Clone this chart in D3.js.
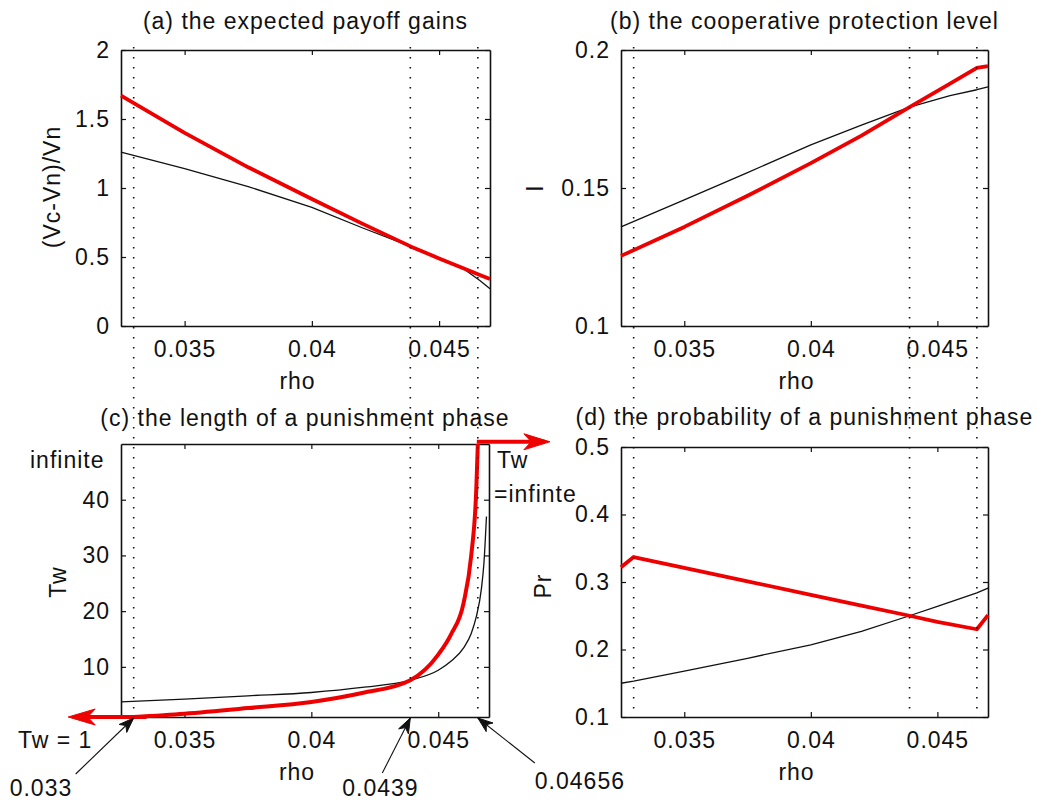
<!DOCTYPE html>
<html>
<head>
<meta charset="utf-8">
<script src="https://cdn.jsdelivr.net/npm/d3@7/dist/d3.min.js"></script>
<style>
  html, body { margin: 0; padding: 0; background: #fff; }
  svg { display: block; }
  text { font-family: "Liberation Sans", Arial, Helvetica, sans-serif; font-size: 23px; letter-spacing: 1px; fill: #111; }
</style>
</head>
<body>
<svg id="chart" width="1037" height="803"></svg>
<script>
// ---------- data ----------
const rhoDomain = [0.0325, 0.047];
const rhoTicks = [0.035, 0.04, 0.045];
const criticalRho = [0.033, 0.0439, 0.04656];
const criticalLabels = ["0.033", "0.0439", "0.04656"];

// (a) expected payoff gains
const rhoA = [0.0325, 0.035, 0.0375, 0.04, 0.042, 0.0439, 0.045, 0.046, 0.0466, 0.047];
const gainRed = [1.67, 1.40, 1.15, 0.92, 0.74, 0.575, 0.49, 0.415, 0.37, 0.34];
const gainBlack = [1.26, 1.14, 1.01, 0.86, 0.71, 0.575, 0.49, 0.41, 0.33, 0.27];
const gainTicks = [0, 0.5, 1, 1.5, 2];

// (b) cooperative protection level
const rhoB = [0.0325, 0.035, 0.0375, 0.04, 0.042, 0.0439, 0.0455, 0.04656, 0.047];
const levelRed = [0.1254, 0.1359, 0.1472, 0.1590, 0.1690, 0.1793, 0.1878, 0.1935, 0.1942];
const levelBlack = [0.1359, 0.1457, 0.1556, 0.1656, 0.1728, 0.1793, 0.1835, 0.1856, 0.1866];
const levelTicks = [0.1, 0.15, 0.2];

// (c) length of a punishment phase
const rhoCRed = [0.033, 0.035, 0.0375, 0.04, 0.042, 0.0439, 0.045, 0.0455, 0.046, 0.0463, 0.0465, 0.04656];
const lengthRed = [1, 1.6, 2.6, 3.7, 5.3, 7.6, 12.2, 15.8, 21.5, 30, 42, 50];
const rhoCBlack = [0.0325, 0.035, 0.0375, 0.04, 0.042, 0.0439, 0.045, 0.0455, 0.046, 0.0463, 0.0465, 0.0467, 0.0468, 0.0469];
const lengthBlack = [3.7, 4.2, 4.8, 5.4, 6.3, 7.6, 9.4, 11, 13.4, 16, 19, 24, 28.6, 37];
const lengthTicks = [10, 20, 30, 40];

// (d) probability of a punishment phase
const rhoD = [0.0325, 0.033, 0.035, 0.0375, 0.04, 0.042, 0.0439, 0.045, 0.04656, 0.047];
const probRed = [0.322, 0.337, 0.321, 0.301, 0.281, 0.265, 0.250, 0.241, 0.230, 0.251];
const probBlack = [0.150, 0.153, 0.168, 0.187, 0.207, 0.227, 0.250, 0.264, 0.284, 0.291];
const probTicks = [0.1, 0.2, 0.3, 0.4, 0.5];

// ---------- drawing ----------
const svg = d3.select("#chart");
svg.append("rect").attr("width", 1037).attr("height", 803).attr("fill", "#fff");

const RED = "#ee0000";
const fmt = d => String(d);

function makePanel(cfg) {
  const x = d3.scaleLinear().domain(rhoDomain).range([cfg.x0, cfg.x1]);
  const y = d3.scaleLinear().domain(cfg.yDomain).range([cfg.y1, cfg.y0]);
  const g = svg.append("g");

  const styleAxis = sel => {
    sel.select(".domain").attr("stroke", "#111").attr("stroke-width", 1.6);
    sel.selectAll(".tick line").attr("stroke", "#111").attr("stroke-width", 1.2);
    sel.selectAll("text").attr("font-size", null).attr("font-family", null).attr("fill", "#111");
  };
  g.append("g").attr("transform", `translate(0,${cfg.y1})`)
    .call(d3.axisBottom(x).tickValues(rhoTicks).tickFormat(fmt).tickSizeInner(-5).tickSizeOuter(0).tickPadding(15))
    .call(styleAxis);
  g.append("g").attr("transform", `translate(0,${cfg.y0})`)
    .call(d3.axisTop(x).tickValues(rhoTicks).tickFormat("").tickSizeInner(-5).tickSizeOuter(0))
    .call(styleAxis);
  g.append("g").attr("transform", `translate(${cfg.x0},0)`)
    .call(d3.axisLeft(y).tickValues(cfg.yTicks).tickFormat(fmt).tickSizeInner(-5).tickSizeOuter(0).tickPadding(11))
    .call(styleAxis);
  g.append("g").attr("transform", `translate(${cfg.x1},0)`)
    .call(d3.axisRight(y).tickValues(cfg.yTicks).tickFormat("").tickSizeInner(-5).tickSizeOuter(0))
    .call(styleAxis);
  g.selectAll("text").attr("font-size", null).attr("font-family", null);

  // series
  cfg.series.forEach(s => {
    const line = d3.line().x((d, i) => x(s.xs[i])).y(d => y(d)).curve(cfg.curve || d3.curveLinear);
    g.append("path").datum(s.ys).attr("d", line)
      .attr("fill", "none").attr("stroke", s.color).attr("stroke-width", s.width)
      .attr("stroke-linejoin", "round");
  });

  // title
  svg.append("text").attr("x", (cfg.x0 + cfg.x1) / 2).attr("y", cfg.titleY)
    .attr("text-anchor", "middle").text(cfg.title);
  // x label
  svg.append("text").attr("x", (cfg.x0 + cfg.x1) / 2 - 8).attr("y", cfg.y1 + 63)
    .attr("text-anchor", "middle").text("rho");
  // y label
  svg.append("text").attr("transform", `translate(${cfg.ylabX},${cfg.ylabY}) rotate(-90)`)
    .attr("text-anchor", "middle").text(cfg.ylabel);
  return { x, y };
}

const pa = makePanel({
  x0: 121, x1: 490, y0: 50, y1: 326, yDomain: [0, 2], yTicks: gainTicks,
  title: "(a) the expected payoff gains", titleY: 29,
  ylabel: "(Vc-Vn)/Vn", ylabX: 60, ylabY: 187,
  series: [
    { xs: rhoA, ys: gainBlack, color: "#111", width: 1.3 },
    { xs: rhoA, ys: gainRed, color: RED, width: 3.8 }
  ]
});
const pb = makePanel({
  x0: 621, x1: 988, y0: 50, y1: 326, yDomain: [0.1, 0.2], yTicks: levelTicks,
  title: "(b) the cooperative protection level", titleY: 29,
  ylabel: "I", ylabX: 543, ylabY: 188,
  series: [
    { xs: rhoB, ys: levelBlack, color: "#111", width: 1.3 },
    { xs: rhoB, ys: levelRed, color: RED, width: 3.8 }
  ]
});
const pc = makePanel({
  x0: 121, x1: 489, y0: 444, y1: 717, yDomain: [1, 50], yTicks: lengthTicks,
  title: "(c) the length of a punishment phase", titleY: 426,
  ylabel: "Tw", ylabX: 66, ylabY: 582, curve: d3.curveMonotoneX,
  series: [
    { xs: rhoCBlack, ys: lengthBlack, color: "#111", width: 1.3 },
    { xs: rhoCRed, ys: lengthRed, color: RED, width: 4 }
  ]
});
const pd = makePanel({
  x0: 621, x1: 988, y0: 447, y1: 717, yDomain: [0.1, 0.5], yTicks: probTicks,
  title: "(d) the probability of a punishment phase", titleY: 425,
  ylabel: "Pr", ylabX: 551, ylabY: 586,
  series: [
    { xs: rhoD, ys: probBlack, color: "#111", width: 1.3 },
    { xs: rhoD, ys: probRed, color: RED, width: 3.8 }
  ]
});

// dotted vertical guides at the critical rho values
[pc, pd].forEach(p => {
  svg.selectAll(null).data(criticalRho).enter().append("line")
    .attr("x1", d => p.x(d)).attr("x2", d => p.x(d))
    .attr("y1", 47).attr("y2", 716)
    .attr("stroke", "#111").attr("stroke-width", 1.6)
    .attr("stroke-dasharray", "1.6,8.4");
});

// arrow helper
function arrowHead(tx, ty, sx, sy, L, w, color) {
  const d = Math.hypot(tx - sx, ty - sy), ux = (tx - sx) / d, uy = (ty - sy) / d;
  const nx = -uy, ny = ux;
  const bx = tx - L * ux, by = ty - L * uy;
  const mx = tx - 0.72 * L * ux, my = ty - 0.72 * L * uy;
  svg.append("path")
    .attr("d", `M${tx},${ty}L${bx + w * nx},${by + w * ny}L${mx},${my}L${bx - w * nx},${by - w * ny}Z`)
    .attr("fill", color).attr("stroke", color).attr("stroke-width", 1);
}

// red arrows in (c): Tw = infinite and Tw = 1
const topY = pc.y(50.4);
svg.append("line").attr("x1", pc.x(0.04652)).attr("x2", pc.x(0.0492)).attr("y1", topY).attr("y2", topY)
  .attr("stroke", RED).attr("stroke-width", 4);
arrowHead(pc.x(0.0494), topY, pc.x(0.04656), topY, 26, 8, RED);
const botY = pc.y(1);
svg.append("line").attr("x1", pc.x(0.0335)).attr("x2", pc.x(0.0310)).attr("y1", botY).attr("y2", botY)
  .attr("stroke", RED).attr("stroke-width", 4);
arrowHead(pc.x(0.03042), botY, pc.x(0.033), botY, 27, 8, RED);

svg.append("text").attr("x", 30).attr("y", 468).text("infinite");
svg.append("text").attr("x", 497).attr("y", 468).text("Tw");
svg.append("text").attr("x", 494).attr("y", 502).text("=infinte");
svg.append("text").attr("x", 18).attr("y", 748).text("Tw = 1");

// black annotation arrows pointing at the critical rho values
const annotTail = [[-58, 56], [-28, 55], [57, 45]];
const annotText = [[-124, 78, "start"], [-68, 78, "start"], [57, 71, "start"]];
criticalRho.forEach((r, i) => {
  const tx = pc.x(r), ty = pc.y(1) + 1;
  const sx = tx + annotTail[i][0], sy = ty + annotTail[i][1];
  svg.append("line").attr("x1", sx).attr("y1", sy).attr("x2", tx).attr("y2", ty)
    .attr("stroke", "#111").attr("stroke-width", 1.1);
  arrowHead(tx, ty, sx, sy, 15, 5.5, "#111");
  svg.append("text").attr("x", tx + annotText[i][0]).attr("y", ty + annotText[i][1])
    .attr("text-anchor", annotText[i][2]).text(criticalLabels[i]);
});
</script>
</body>
</html>
